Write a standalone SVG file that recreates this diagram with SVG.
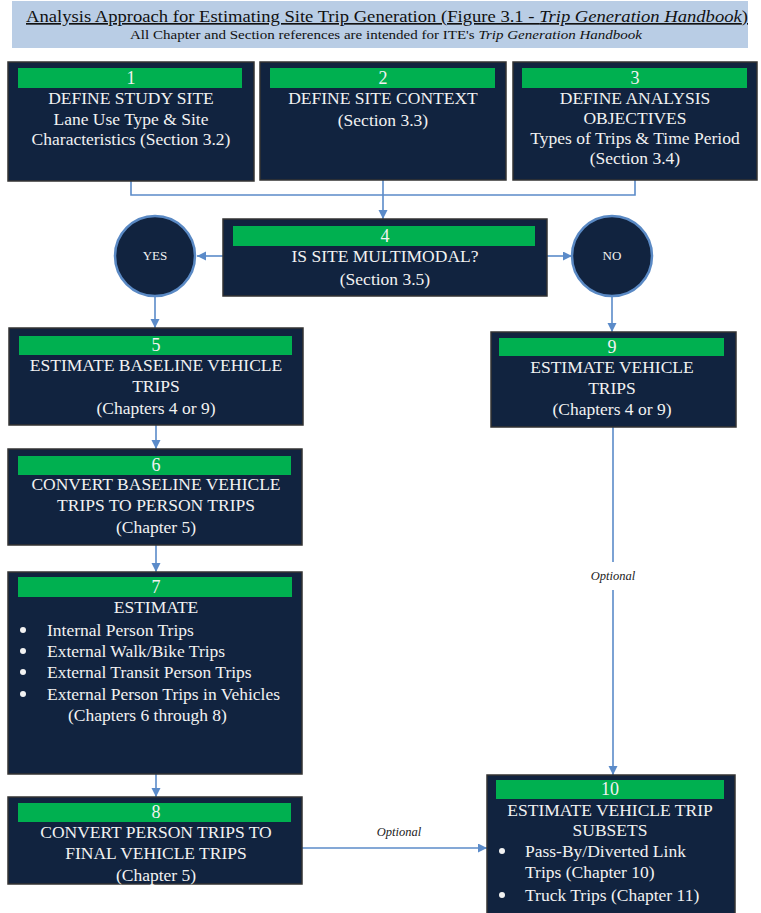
<svg xmlns="http://www.w3.org/2000/svg" width="761" height="913" viewBox="0 0 761 913">
<style>
.box{fill:#11233f;stroke:#333;stroke-width:1.5}
.bar{fill:#00b050}
.t{font-family:"Liberation Serif","Times New Roman",serif;font-size:17.5px;fill:#f2f2f2}
.c{text-anchor:middle}
.num{font-family:"Liberation Serif","Times New Roman",serif;font-size:18px;fill:#f2f2f2;text-anchor:middle}
.circ{fill:#11233f;stroke:#5a89c4;stroke-width:2.5}
.ct{font-family:"Liberation Serif","Times New Roman",serif;font-size:13px;fill:#f2f2f2;text-anchor:middle}
.ln{fill:none;stroke:#5b8bc9;stroke-width:1.6}
.opt{font-family:"Liberation Serif","Times New Roman",serif;font-size:12.5px;font-style:italic;fill:#222;text-anchor:middle}
.bul{fill:#f2f2f2}
</style>
<defs>
<marker id="ar" markerUnits="userSpaceOnUse" markerWidth="10" markerHeight="10" refX="9" refY="4.5" orient="auto">
<path d="M0,0 L9,4.5 L0,9 z" fill="#5b8bc9"/>
</marker>
</defs>
<g id="title">
<rect x="12" y="1" width="736" height="47" fill="#b9cde5"/>
<text x="387" y="22" font-family="Liberation Serif,serif" font-size="16.5" fill="#111" text-anchor="middle" text-decoration="underline" textLength="722" lengthAdjust="spacingAndGlyphs">Analysis Approach for Estimating Site Trip Generation (Figure 3.1 - <tspan font-style="italic">Trip Generation Handbook</tspan>)</text>
<text x="386" y="39" font-family="Liberation Serif,serif" font-size="12" fill="#111" text-anchor="middle" textLength="512" lengthAdjust="spacingAndGlyphs">All Chapter and Section references  are intended for ITE's <tspan font-style="italic">Trip Generation Handbook</tspan></text>
</g>
<g id="connectors">
<polyline class="ln" points="131,181 131,195 635,195 635,180"/>
<line class="ln" x1="383" y1="180" x2="383" y2="219" marker-end="url(#ar)"/>
<line class="ln" x1="223" y1="256" x2="197" y2="256" marker-end="url(#ar)"/>
<line class="ln" x1="547" y1="256" x2="572" y2="256" marker-end="url(#ar)"/>
<line class="ln" x1="155" y1="297" x2="155" y2="328" marker-end="url(#ar)"/>
<line class="ln" x1="612" y1="297" x2="612" y2="332" marker-end="url(#ar)"/>
<line class="ln" x1="156" y1="425" x2="156" y2="449" marker-end="url(#ar)"/>
<line class="ln" x1="156" y1="545" x2="156" y2="572" marker-end="url(#ar)"/>
<line class="ln" x1="156" y1="774" x2="156" y2="797" marker-end="url(#ar)"/>
<line class="ln" x1="613" y1="427" x2="613" y2="562"/>
<line class="ln" x1="613" y1="590" x2="613" y2="775" marker-end="url(#ar)"/>
<text class="opt" x="613" y="580">Optional</text>
<line class="ln" x1="302" y1="848" x2="487" y2="848" marker-end="url(#ar)"/>
<text class="opt" x="399" y="836">Optional</text>
</g>
<g id="n1">
<rect class="box" x="8" y="62" width="246" height="119"/>
<rect class="bar" x="18" y="68" width="224" height="20"/>
<text class="num" x="131" y="84">1</text>
<text class="t c" x="131" y="104">DEFINE STUDY SITE</text>
<text class="t c" x="131" y="125">Lane Use Type &amp; Site</text>
<text class="t c" x="131" y="145">Characteristics (Section 3.2)</text>
</g>
<g id="n2">
<rect class="box" x="260" y="62" width="246" height="118"/>
<rect class="bar" x="270" y="68" width="225" height="20"/>
<text class="num" x="383" y="84">2</text>
<text class="t c" x="383" y="104">DEFINE SITE CONTEXT</text>
<text class="t c" x="383" y="126">(Section 3.3)</text>
</g>
<g id="n3">
<rect class="box" x="513" y="62" width="244" height="118"/>
<rect class="bar" x="522" y="68" width="225" height="20"/>
<text class="num" x="635" y="84">3</text>
<text class="t c" x="635" y="104">DEFINE ANALYSIS</text>
<text class="t c" x="635" y="124">OBJECTIVES</text>
<text class="t c" x="635" y="144">Types of Trips &amp; Time Period</text>
<text class="t c" x="635" y="164">(Section 3.4)</text>
</g>
<g id="n4">
<rect class="box" x="223" y="219" width="324" height="77"/>
<rect class="bar" x="233" y="226" width="302" height="20"/>
<text class="num" x="385" y="242">4</text>
<text class="t c" x="385" y="262">IS SITE MULTIMODAL?</text>
<text class="t c" x="385" y="285">(Section 3.5)</text>
</g>
<g id="yes">
<circle class="circ" cx="155" cy="256" r="40"/>
<text class="ct" x="155" y="260">YES</text>
</g>
<g id="no">
<circle class="circ" cx="612" cy="256" r="40"/>
<text class="ct" x="612" y="260">NO</text>
</g>
<g id="n5">
<rect class="box" x="9" y="328" width="294" height="97"/>
<rect class="bar" x="19" y="336" width="273" height="19"/>
<text class="num" x="156" y="351">5</text>
<text class="t c" x="156" y="371">ESTIMATE BASELINE VEHICLE</text>
<text class="t c" x="156" y="392">TRIPS</text>
<text class="t c" x="156" y="414">(Chapters 4 or 9)</text>
</g>
<g id="n6">
<rect class="box" x="8" y="449" width="294" height="96"/>
<rect class="bar" x="18" y="456" width="273" height="19"/>
<text class="num" x="156" y="471">6</text>
<text class="t c" x="156" y="490">CONVERT BASELINE VEHICLE</text>
<text class="t c" x="156" y="511">TRIPS TO PERSON TRIPS</text>
<text class="t c" x="156" y="533">(Chapter 5)</text>
</g>
<g id="n7">
<rect class="box" x="8" y="572" width="294" height="202"/>
<rect class="bar" x="18" y="577" width="274" height="20"/>
<text class="num" x="156" y="593">7</text>
<text class="t c" x="156" y="613">ESTIMATE</text>
<circle class="bul" cx="23" cy="630" r="3"/>
<text class="t" x="47" y="636">Internal Person Trips</text>
<circle class="bul" cx="23" cy="651" r="3"/>
<text class="t" x="47" y="657">External Walk/Bike Trips</text>
<circle class="bul" cx="23" cy="672" r="3"/>
<text class="t" x="47" y="678">External Transit Person Trips</text>
<circle class="bul" cx="23" cy="694" r="3"/>
<text class="t" x="47" y="700">External Person Trips in Vehicles</text>
<text class="t" x="68" y="721">(Chapters 6 through 8)</text>
</g>
<g id="n8">
<rect class="box" x="8" y="797" width="294" height="87"/>
<rect class="bar" x="18" y="803" width="273" height="19"/>
<text class="num" x="156" y="818">8</text>
<text class="t c" x="156" y="838">CONVERT PERSON TRIPS TO</text>
<text class="t c" x="156" y="859">FINAL VEHICLE TRIPS</text>
<text class="t c" x="156" y="881">(Chapter 5)</text>
</g>
<g id="n9">
<rect class="box" x="491" y="332" width="245" height="95"/>
<rect class="bar" x="499" y="338" width="225" height="18"/>
<text class="num" x="612" y="353">9</text>
<text class="t c" x="612" y="373">ESTIMATE VEHICLE</text>
<text class="t c" x="612" y="394">TRIPS</text>
<text class="t c" x="612" y="415">(Chapters 4 or 9)</text>
</g>
<g id="n10">
<rect class="box" x="487" y="775" width="248" height="140"/>
<rect class="bar" x="496" y="780" width="228" height="19"/>
<text class="num" x="610" y="795">10</text>
<text class="t c" x="610" y="816">ESTIMATE VEHICLE TRIP</text>
<text class="t c" x="610" y="836">SUBSETS</text>
<circle class="bul" cx="502" cy="851" r="3"/>
<text class="t" x="525" y="857">Pass-By/Diverted Link</text>
<text class="t" x="525" y="878">Trips (Chapter 10)</text>
<circle class="bul" cx="502" cy="895" r="3"/>
<text class="t" x="525" y="901">Truck Trips (Chapter 11)</text>
</g>
</svg>
